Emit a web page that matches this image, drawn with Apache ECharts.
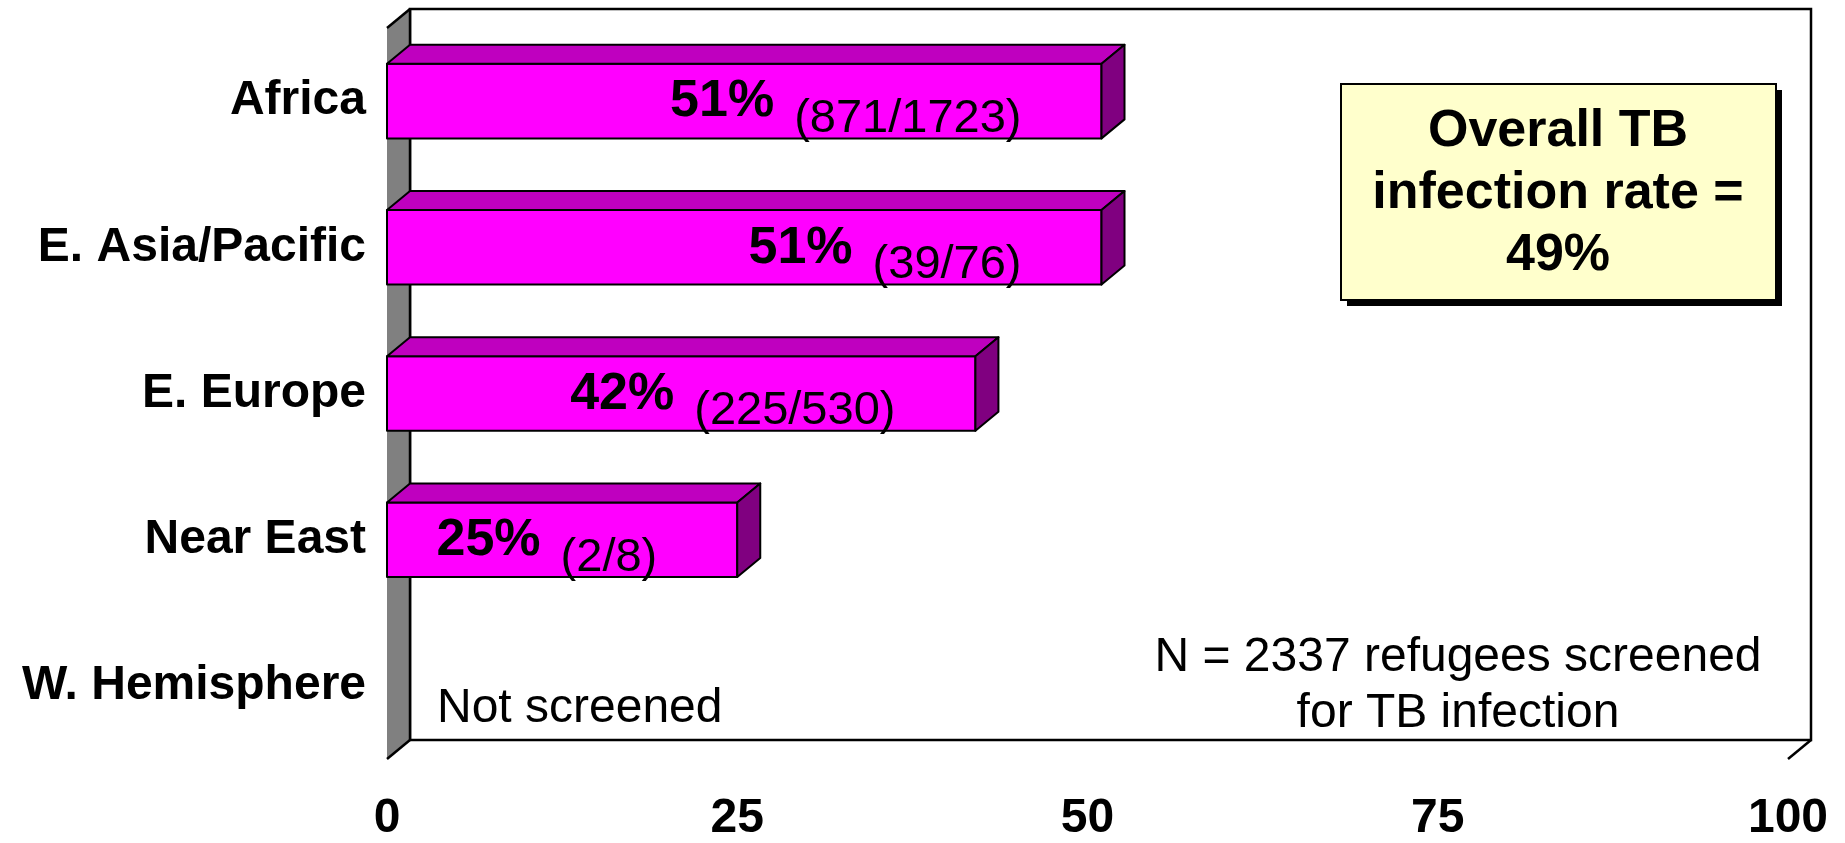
<!DOCTYPE html>
<html><head><meta charset="utf-8">
<script src="https://cdn.jsdelivr.net/npm/echarts/dist/echarts.min.js"></script>
<style>html,body{margin:0;padding:0;background:#fff}#c{width:1845px;height:843px}</style>
</head><body><div id="c"></div>
<script>
// ---- data ----
const categories = ['Africa', 'E. Asia/Pacific', 'E. Europe', 'Near East', 'W. Hemisphere'];
const rates = [51, 51, 42, 25, null];
const pctLabels = ['51%', '51%', '42%', '25%', ''];
const countLabels = ['(871/1723)', '(39/76)', '(225/530)', '(2/8)', ''];
const notes = ['', '', '', '', 'Not screened'];
const xTicks = [0, 25, 50, 75, 100];
const boxLines = ['Overall TB', 'infection rate =', '49%'];
const footLines = ['N = 2337 refugees screened', 'for TB infection'];

// ---- style ----
const FF = "'Liberation Sans', Arial, sans-serif";
const BOLD_FONT = 'bold 52px ' + FF;
const REG_FONT = '47px ' + FF;
const NOTE_FONT = '48px ' + FF;
const DX = 23, DY = 19;

const cv = document.createElement('canvas').getContext('2d');
function measure(t, font) { cv.font = font; return cv.measureText(t).width; }

const chart = echarts.init(document.getElementById('c'), null, {renderer: 'canvas'});

const barData = [];
rates.forEach((v, i) => { if (v !== null) barData.push([v, i]); });
const noteData = notes.map((n, i) => [0, i]);

const option = {
  animation: false,
  backgroundColor: '#fff',
  grid: {left: 387, right: 57, top: 28, bottom: 78},
  xAxis: {
    type: 'value', min: xTicks[0], max: xTicks[xTicks.length - 1], interval: 25,
    axisLine: {show: false}, axisTick: {show: false}, splitLine: {show: false},
    axisLabel: {color: '#000', fontSize: 48, fontWeight: 'bold', fontFamily: FF, margin: 36,
      formatter: v => xTicks.includes(v) ? String(v) : ''}
  },
  yAxis: {
    type: 'category', inverse: true, data: categories,
    axisLine: {show: false}, axisTick: {show: false}, splitLine: {show: false},
    axisLabel: {color: '#000', fontSize: 48, fontWeight: 'bold', fontFamily: FF, margin: 21,
      padding: [4, 0, 0, 0]}
  },
  series: [
    {
      type: 'custom', name: 'frame', silent: true, clip: false, z: 1,
      data: [[0, 0]],
      encode: {x: 0, y: 1},
      renderItem: function (params, api) {
        const cs = params.coordSys;
        const x0 = cs.x, y0 = cs.y, x1 = cs.x + cs.width, y1 = cs.y + cs.height;
        const ls = {stroke: '#000', lineWidth: 2.5};
        return {type: 'group', children: [
          {type: 'rect', shape: {x: x0 + DX, y: y0 - DY, width: cs.width, height: cs.height},
            style: {fill: '#fff', stroke: '#000', lineWidth: 2.5}},
          {type: 'polygon', shape: {points: [[x0, y0], [x0 + DX, y0 - DY], [x0 + DX, y1 - DY], [x0, y1]]},
            style: {fill: '#808080'}},
          {type: 'line', shape: {x1: x0, y1: y0, x2: x0 + DX, y2: y0 - DY}, style: ls},
          {type: 'line', shape: {x1: x0, y1: y1, x2: x0 + DX, y2: y1 - DY}, style: ls},
          {type: 'line', shape: {x1: x0 + DX, y1: y0 - DY, x2: x0 + DX, y2: y1 - DY}, style: ls},
          {type: 'line', shape: {x1: x1, y1: y1, x2: x1 + DX, y2: y1 - DY}, style: ls}
        ]};
      }
    },
    {
      type: 'custom', name: 'bars', clip: false, z: 3,
      data: barData,
      encode: {x: 0, y: 1},
      renderItem: function (params, api) {
        const v = api.value(0), idx = api.value(1);
        const end = api.coord([v, idx]);
        const start = api.coord([0, idx]);
        const h = api.size([0, 1])[1] * 0.51;
        const top = end[1] - h / 2, bot = end[1] + h / 2;
        const xs = start[0], xe = end[0];
        const st = {stroke: '#000', lineWidth: 2, lineJoin: 'round'};
        const children = [
          {type: 'polygon', shape: {points: [[xs, top], [xe, top], [xe, bot], [xs, bot]]},
            style: Object.assign({fill: '#FF00FF'}, st)},
          {type: 'polygon', shape: {points: [[xs, top], [xs + DX, top - DY], [xe + DX, top - DY], [xe, top]]},
            style: Object.assign({fill: '#BF00BF'}, st)},
          {type: 'polygon', shape: {points: [[xe, top], [xe + DX, top - DY], [xe + DX, bot - DY], [xe, bot]]},
            style: Object.assign({fill: '#800080'}, st)}
        ];
        const p = pctLabels[idx], c = countLabels[idx];
        const wc = measure(c, REG_FONT);
        const right = xe - 80;
        children.push({type: 'text', style: {text: c, x: right, y: end[1] + 18, align: 'right',
          verticalAlign: 'middle', font: REG_FONT, fill: '#000'}});
        children.push({type: 'text', style: {text: p, x: right - wc - 20, y: end[1] + 1, align: 'right',
          verticalAlign: 'middle', font: BOLD_FONT, fill: '#000'}});
        return {type: 'group', children: children};
      }
    },
    {
      type: 'custom', name: 'notes', silent: true, clip: false, z: 4,
      data: noteData,
      encode: {x: 0, y: 1},
      renderItem: function (params, api) {
        const idx = api.value(1);
        if (!notes[idx]) return null;
        const p = api.coord([0, idx]);
        return {type: 'text', style: {text: notes[idx], x: p[0] + 50, y: p[1] + 23, align: 'left',
          verticalAlign: 'middle', font: NOTE_FONT, fill: '#000'}};
      }
    }
  ],
  graphic: [
    {type: 'rect', z: 10, shape: {x: 1347, y: 90, width: 435, height: 216}, style: {fill: '#000'}},
    {type: 'rect', z: 11, shape: {x: 1341, y: 84, width: 435, height: 216},
      style: {fill: '#FFFFCC', stroke: '#000', lineWidth: 2}},
    ...boxLines.map((t, i) => ({type: 'text', z: 12, x: 1558, y: 132 + i * 62,
      style: {text: t, align: 'center', verticalAlign: 'middle', font: 'bold 52px ' + FF, fill: '#000'}})),
    ...footLines.map((t, i) => ({type: 'text', z: 12, x: 1458, y: 658 + i * 56,
      style: {text: t, align: 'center', verticalAlign: 'middle', font: '48px ' + FF, fill: '#000',
        textShadowColor: '#a0a0a0', textShadowOffsetX: 2, textShadowOffsetY: 2, textShadowBlur: 0}}))
  ]
};
chart.setOption(option);
</script>
</body></html>
